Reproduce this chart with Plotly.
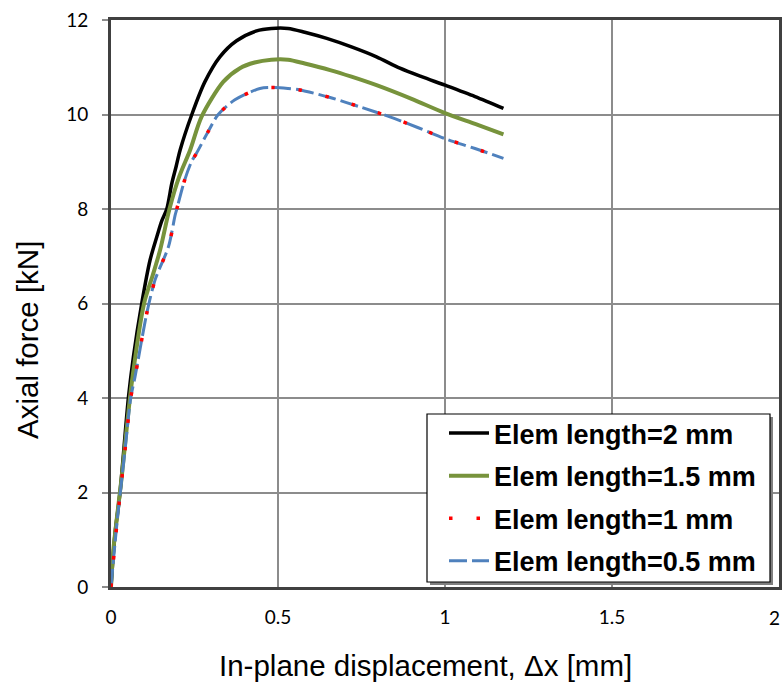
import plotly.graph_objects as go

# Elem length = 2 mm
x_2mm = [0, 0.012, 0.027, 0.052, 0.067, 0.092, 0.117, 0.137, 0.152, 0.167, 0.182, 0.195, 0.207, 0.242,
         0.281, 0.326, 0.376, 0.436, 0.48, 0.53, 0.58, 0.646, 0.72, 0.795, 0.865, 0.93, 1.0, 1.09, 1.175]
y_2mm = [0, 1.13, 2.0, 4.0, 4.87, 6.0, 6.92, 7.41, 7.75, 8.0, 8.54, 8.9, 9.25, 10.0,
         10.69, 11.22, 11.56, 11.77, 11.82, 11.82, 11.74, 11.61, 11.43, 11.22, 10.98, 10.8, 10.62, 10.38, 10.13]

# Elem length = 1.5 mm
x_15mm = [0, 0.007, 0.032, 0.062, 0.099, 0.125, 0.147, 0.175, 0.205, 0.237, 0.271, 0.336, 0.386, 0.43,
          0.48, 0.53, 0.58, 0.656, 0.72, 0.795, 0.9, 1.0, 1.09, 1.175]
y_15mm = [0, 0.78, 2.33, 4.31, 6.0, 6.6, 7.13, 8.0, 8.7, 9.25, 9.95, 10.69, 10.98, 11.1,
          11.16, 11.16, 11.08, 10.94, 10.8, 10.62, 10.33, 10.03, 9.8, 9.58]

# Elem length = 1 mm
x_1mm = [0, 0.012, 0.022, 0.042, 0.059, 0.072, 0.107, 0.132, 0.172, 0.192, 0.197, 0.22, 0.241, 0.256,
         0.291, 0.321, 0.371, 0.446, 0.49, 0.53, 0.566, 0.656, 0.75, 0.835, 0.92, 1.0, 1.09, 1.175]
y_1mm = [0, 0.93, 1.63, 2.9, 4.0, 4.45, 5.79, 6.5, 7.2, 7.87, 8.0, 8.6, 9.0, 9.18,
         9.64, 10.0, 10.31, 10.55, 10.57, 10.55, 10.52, 10.36, 10.15, 9.95, 9.72, 9.49, 9.28, 9.07]

# Elem length = 0.5 mm
x_05mm = [0, 0.012, 0.022, 0.042, 0.059, 0.072, 0.107, 0.132, 0.172, 0.192, 0.197, 0.22, 0.241, 0.256,
          0.291, 0.321, 0.371, 0.446, 0.49, 0.53, 0.566, 0.656, 0.75, 0.835, 0.92, 1.0, 1.09, 1.175]
y_05mm = [0, 0.93, 1.63, 2.9, 4.0, 4.45, 5.79, 6.5, 7.2, 7.87, 8.0, 8.6, 9.0, 9.18,
          9.64, 10.0, 10.31, 10.55, 10.57, 10.55, 10.52, 10.36, 10.15, 9.95, 9.72, 9.49, 9.28, 9.07]

x_ticks = [0, 0.5, 1, 1.5, 2]
x_labels = ["0", "0.5", "1", "1.5", "2"]
y_ticks = [0, 2, 4, 6, 8, 10, 12]

# plot area in pixels (for paper conversions)
L, R, T, B = 111, 779, 20, 587
W, H = 783, 684
PW, PH = R - L, B - T


def px(xp):
    return (xp - L) / PW


def py(yp):
    return (B - yp) / PH


SM = 0.8

fig = go.Figure()
fig.add_trace(go.Scatter(x=x_2mm, y=y_2mm, mode="lines", name="Elem length=2 mm",
                         line=dict(color="#000000", width=3.5, shape="spline", smoothing=SM),
                         legendrank=1, legendgroup="a"))
fig.add_trace(go.Scatter(x=x_15mm, y=y_15mm, mode="lines", name="Elem length=1.5 mm",
                         line=dict(color="#77933C", width=4, shape="spline", smoothing=SM),
                         legendrank=2, legendgroup="b"))
fig.add_trace(go.Scatter(x=x_05mm, y=y_05mm, mode="lines", name="Elem length=0.5 mm",
                         line=dict(color="#4F81BD", width=3, dash="18px,5px", shape="spline", smoothing=SM),
                         legendrank=4, legendgroup="d"))
fig.add_trace(go.Scatter(x=x_1mm, y=y_1mm, mode="lines", name="Elem length=1 mm",
                         line=dict(color="#FF0000", width=3.5, dash="3.5px,24px", shape="spline", smoothing=SM),
                         legendrank=3, legendgroup="c"))

shapes = [
    # legend shadow
    dict(type="rect", xref="paper", yref="paper", layer="above",
         x0=px(430), x1=px(773), y0=py(585), y1=py(417),
         fillcolor="#7F7F7F", line=dict(width=0)),
    # legend box
    dict(type="rect", xref="paper", yref="paper", layer="above",
         x0=px(427), x1=px(770), y0=py(582), y1=py(414),
         fillcolor="white", line=dict(color="black", width=1.2)),
]

tick_font = dict(family="Lato, sans-serif", size=19, color="black")

annotations = [
    dict(text="In-plane displacement, \u0394x [mm]", xref="paper", yref="paper",
         x=px(425), y=py(665), xanchor="center", yanchor="middle", showarrow=False,
         font=dict(family="Liberation Sans, Arial, sans-serif", size=29.5, color="black")),
    dict(text="Axial force [kN]", xref="paper", yref="paper", textangle=-90,
         x=px(27), y=py(340), xanchor="center", yanchor="middle", showarrow=False,
         font=dict(family="Liberation Sans, Arial, sans-serif", size=29.5, color="black")),
    # last x tick label, kept inside the page edge
    dict(text=x_labels[-1], xref="paper", yref="paper",
         x=px(W - 1), y=py(617), xanchor="right", yanchor="middle", showarrow=False,
         font=tick_font),
]

fig.update_layout(
    width=W, height=H,
    margin=dict(l=L, r=W - R, t=T, b=H - B),
    paper_bgcolor="white", plot_bgcolor="white",
    font=dict(family="Lato, Liberation Sans, sans-serif", color="black"),
    showlegend=True,
    shapes=shapes,
    annotations=annotations,
    legend=dict(x=px(444), y=py(409), xanchor="left", yanchor="top",
                bgcolor="rgba(0,0,0,0)", borderwidth=0,
                font=dict(family="Liberation Sans, Arial, sans-serif", size=27, color="black",
                          weight="bold"),
                tracegroupgap=4.5, itemwidth=40),
)
fig.update_xaxes(range=[0, 2], tickvals=x_ticks[:-1], ticktext=x_labels[:-1], automargin=False,
                 showgrid=True, gridcolor="#8C8C8C", gridwidth=1.5,
                 showline=True, linecolor="#404040", linewidth=3, mirror=True,
                 ticks="", zeroline=False,
                 tickfont=tick_font,
                 ticklabelstandoff=11)
fig.update_yaxes(range=[0, 12], tickvals=y_ticks, automargin=False,
                 showgrid=True, gridcolor="#8C8C8C", gridwidth=1.5,
                 showline=True, linecolor="#404040", linewidth=3, mirror=True,
                 ticks="outside", ticklen=6, tickcolor="#8C8C8C", tickwidth=1.5,
                 zeroline=False,
                 tickfont=tick_font,
                 ticklabelstandoff=10)

fig.write_html("out.html")
